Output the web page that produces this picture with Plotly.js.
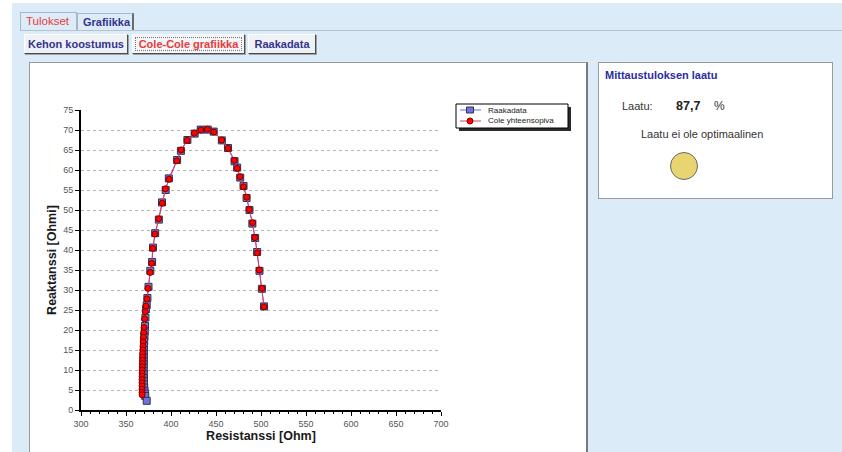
<!DOCTYPE html>
<html>
<head>
<meta charset="utf-8">
<script src="https://cdn.plot.ly/plotly-3.0.1.min.js"></script>
<style>
  html, body { margin:0; padding:0; }
  body { width:842px; height:452px; position:relative; overflow:hidden; background:#ffffff;
         font-family:'Liberation Sans', Arial, sans-serif; }
  .abs { position:absolute; box-sizing:border-box; }
  .bg { left:12px; top:3px; width:830px; height:449px; background:#dcebf8; }
  .tab { height:18px; font-size:11px; font-weight:bold; line-height:17px; padding-left:5px;
         border:1px solid #a9b6c4; border-bottom:none; background:#dcebf8; }
  .tabline { left:20px; top:30px; width:822px; height:1px; background:#b5c3d1; }
  .btn { top:34px; height:20px; font-size:11px; font-weight:bold; line-height:18px; text-align:center;
         background:#eef1f5; border:1px solid #ffffff; border-right:1px solid #4d4d4d; border-bottom:1px solid #4d4d4d;
         box-shadow: 1px 1px 0 #9aa3ad; }
  .panel { left:29px; top:62px; width:559px; height:400px; background:#ffffff;
           border-left:1px solid #9a9a9a; border-top:1px solid #9a9a9a; border-right:2px solid #7a7a7a; }
  .rpanel { left:598px; top:62px; width:235px; height:137px; background:#ffffff; border:1px solid #9a9a9a; }
  .txt { white-space:nowrap; font-size:11px; color:#333; }
  #chart { position:absolute; left:0; top:0; width:842px; height:452px; }
</style>
</head>
<body>
<div class="abs bg"></div>
<div class="abs tabline"></div>
<div class="abs tab" style="left:20px; top:12px; width:57px; color:#e83a3a; font-weight:normal; font-size:11.5px;">Tulokset</div>
<div class="abs tab" style="left:77px; top:13px; width:57px; height:17px; color:#34348c; border-right:2px solid #6b6b6b;">Grafiikka</div>

<div class="abs btn" style="left:24px; width:104px; color:#34348c;">Kehon koostumus</div>
<div class="abs btn" style="left:132px; width:113px; color:#e83a3a; background:#f3f5f8;">
  <div style="position:absolute; left:2px; top:2px; right:2px; bottom:2px; border:1px dotted #777;"></div>Cole-Cole grafiikka</div>
<div class="abs btn" style="left:248px; width:68px; color:#34348c;">Raakadata</div>

<div class="abs panel"></div>

<div class="abs rpanel"></div>
<div class="abs txt" style="left:605px; top:69px; font-weight:bold; color:#2c2ca0;">Mittaustuloksen laatu</div>
<div class="abs txt" style="left:622px; top:100px;">Laatu:</div>
<div class="abs txt" style="left:676px; top:99px; font-weight:bold; font-size:12.5px; color:#222;">87,7</div>
<div class="abs txt" style="left:714px; top:99px; font-size:12px;">%</div>
<div class="abs txt" style="left:641px; top:128px;">Laatu ei ole optimaalinen</div>
<div class="abs" style="left:670px; top:152px; width:28px; height:28px; border-radius:50%; background:#e8d470; border:1px solid #6a6a6a;"></div>

<div id="chart"></div>

<script>
// Raakadata (measured)
const resistanceRaw = [503.4, 501.0, 498.3, 495.7, 493.5, 490.4, 487.2, 484.0, 480.6, 476.9, 473.5, 470.6, 463.3, 456.5,
  447.4, 440.8, 433.0, 426.3, 418.2, 411.0, 406.8, 397.6, 394.1, 390.0, 386.5, 382.4,
  380.0, 379.0, 377.0, 375.0, 373.8, 373.0, 372.2, 371.6, 371.1, 370.8, 370.5, 370.2, 370.0, 369.9, 369.8, 369.7,
  369.7, 369.6, 369.6, 369.6, 369.7, 369.8, 369.9, 370.0, 370.2, 370.5, 370.9, 371.4, 373.0];
const reactanceRaw = [25.9, 30.3, 34.8, 39.5, 43.0, 46.6, 50.0, 53.0, 56.0, 58.1, 60.6, 62.2, 65.5, 67.4,
  69.6, 70.1, 70.1, 69.1, 67.5, 64.8, 62.5, 57.9, 55.0, 51.9, 47.6, 44.2,
  40.6, 37.0, 34.8, 30.8, 28.0, 26.2, 25.2, 23.1, 21.0, 19.6, 18.4, 17.2, 16.0, 15.0, 14.0, 13.1,
  12.2, 11.4, 10.6, 9.7, 8.9, 8.0, 7.2, 6.4, 5.6, 4.8, 4.1, 3.5, 2.3];

// Cole yhteensopiva (fitted)
const resistanceFit = [503.3, 501.1, 498.1, 495.9, 493.3, 490.6, 487.0, 484.2, 480.5, 476.7, 473.7, 470.4, 463.5, 456.3,
  447.6, 440.5, 433.2, 426.0, 418.0, 411.3, 406.5, 397.9, 393.8, 390.3, 386.2, 382.2,
  379.7, 378.6, 376.8, 374.4, 373.2, 372.2, 371.4, 370.7, 370.1, 369.7, 369.4, 369.1, 368.9, 368.7, 368.5, 368.4,
  368.3, 368.2, 368.1, 368.0, 367.9, 367.9, 367.8, 367.8, 367.8, 367.8, 367.8, 367.9];
const reactanceFit = [25.8, 30.4, 35.0, 39.3, 43.1, 46.8, 50.1, 53.2, 55.8, 58.3, 60.4, 62.4, 65.4, 67.5,
  69.5, 70.2, 70.0, 69.2, 67.4, 65.0, 62.3, 57.7, 55.3, 51.7, 47.8, 44.0,
  40.4, 36.7, 34.4, 30.4, 27.8, 26.0, 24.6, 22.8, 20.6, 19.3, 18.2, 17.0, 15.9, 15.0, 14.1, 13.2,
  12.4, 11.6, 10.8, 10.0, 9.2, 8.4, 7.6, 6.8, 6.0, 5.2, 4.4, 3.8];

const seriesNames = ['Raakadata', 'Cole yhteensopiva'];
const xTitle = 'Resistanssi [Ohm]';
const yTitle = 'Reaktanssi [Ohmi]';
const xTicks = [300, 350, 400, 450, 500, 550, 600, 650, 700];
const yTicks = [0, 5, 10, 15, 20, 25, 30, 35, 40, 45, 50, 55, 60, 65, 70, 75];
const yGrid = [5, 10, 15, 20, 25, 30, 35, 40, 45, 50, 55, 60, 65, 70];

// styles
const rawStyle = { line: '#6464f0', fill: '#7272dc', edge: '#34344a' };
const fitStyle = { line: '#f0385a', fill: '#ff0000', edge: '#7a0000' };

// plot area pixel box
const L = 81, R = 441, T = 110, B = 410;
const px = X => (X - L) / (R - L);
const py = Y => (B - Y) / (B - T);

const traces = [
  { x: resistanceRaw, y: reactanceRaw, name: seriesNames[0], type: 'scatter', mode: 'lines+markers',
    line: { color: rawStyle.line, width: 1 },
    marker: { symbol: 'square', size: 7, color: rawStyle.fill, line: { color: rawStyle.edge, width: 1 } } },
  { x: resistanceFit, y: reactanceFit, name: seriesNames[1], type: 'scatter', mode: 'lines+markers', yaxis: 'y2',
    line: { color: fitStyle.line, width: 1 },
    marker: { symbol: 'circle', size: 6, color: fitStyle.fill, line: { color: fitStyle.edge, width: 1 } } }
];

const tickFont = { family: 'Liberation Sans, Arial, sans-serif', size: 9, color: '#555' };
const titleFont = { family: 'Liberation Sans, Arial, sans-serif', size: 12.5, color: '#1a1a1a', weight: 'bold' };
const legFont = { family: 'Liberation Sans, Arial, sans-serif', size: 8, color: '#222' };

// hand-drawn legend box (pixel layout -> paper coords)
const lg = { x0: 456, x1: 568, y0: 104, y1: 128, rows: [110, 121], symX: 470, lineX0: 460, lineX1: 481, textX: 486 };
const shapes = [
  { type: 'rect', xref: 'paper', yref: 'paper', layer: 'above',
    x0: px(lg.x0 + 3), x1: px(lg.x1 + 3), y0: py(lg.y0 + 3), y1: py(lg.y1 + 3), fillcolor: '#2a2a2a', line: { width: 0 } },
  { type: 'rect', xref: 'paper', yref: 'paper', layer: 'above',
    x0: px(lg.x0), x1: px(lg.x1), y0: py(lg.y0), y1: py(lg.y1), fillcolor: '#ffffff', line: { color: '#000', width: 1 } },
  { type: 'line', xref: 'paper', yref: 'paper', layer: 'above',
    x0: px(lg.lineX0), x1: px(lg.lineX1), y0: py(lg.rows[0]), y1: py(lg.rows[0]), line: { color: rawStyle.line, width: 1 } },
  { type: 'rect', xref: 'paper', yref: 'paper', layer: 'above',
    x0: px(lg.symX - 3.5), x1: px(lg.symX + 3.5), y0: py(lg.rows[0] - 3), y1: py(lg.rows[0] + 3),
    fillcolor: rawStyle.fill, line: { color: rawStyle.edge, width: 1 } },
  { type: 'line', xref: 'paper', yref: 'paper', layer: 'above',
    x0: px(lg.lineX0), x1: px(lg.lineX1), y0: py(lg.rows[1]), y1: py(lg.rows[1]), line: { color: fitStyle.line, width: 1 } },
  { type: 'circle', xref: 'paper', yref: 'paper', layer: 'above',
    x0: px(lg.symX - 3), x1: px(lg.symX + 3), y0: py(lg.rows[1] - 3), y1: py(lg.rows[1] + 3),
    fillcolor: fitStyle.fill, line: { color: fitStyle.edge, width: 1 } }
];
const annotations = seriesNames.map((n, i) => ({
  text: n, xref: 'paper', yref: 'paper', x: px(lg.textX), y: py(lg.rows[i]),
  xanchor: 'left', yanchor: 'middle', showarrow: false, font: legFont
}));

const layout = {
  width: 842, height: 452,
  margin: { l: L, r: 842 - R, t: T, b: 452 - B, pad: 0, autoexpand: false },
  paper_bgcolor: 'rgba(0,0,0,0)', plot_bgcolor: 'rgba(0,0,0,0)',
  showlegend: false,
  xaxis: { range: [300, 700], tickvals: xTicks, ticktext: xTicks.map(String),
           ticks: 'outside', ticklen: 4, tickwidth: 1, tickcolor: '#000',
           minor: { dtick: 10, tick0: 300, ticks: 'outside', ticklen: 2, tickcolor: '#000', showgrid: false },
           showline: true, linecolor: '#000', linewidth: 2, showgrid: false, zeroline: false,
           tickfont: tickFont, automargin: false,
           title: { text: xTitle, font: titleFont, standoff: 3 } },
  yaxis: { range: [0, 75], tickvals: yTicks, ticktext: yTicks.map(String),
           ticks: 'outside', ticklen: 4, tickwidth: 1, tickcolor: '#000',
           showline: true, linecolor: '#000', linewidth: 2, showgrid: false, zeroline: false,
           tickfont: tickFont, automargin: false,
           title: { text: yTitle, font: titleFont, standoff: 4 } },
  yaxis2: { range: [0, 75], overlaying: 'y', anchor: 'x', side: 'left', tickvals: yGrid,
            showticklabels: false, ticks: '', showline: false, zeroline: false,
            showgrid: true, gridcolor: '#b4b4b4', gridwidth: 1, griddash: 'dot' },
  shapes: shapes,
  annotations: annotations
};

Plotly.newPlot('chart', traces, layout, { staticPlot: true, displayModeBar: false });
</script>
</body>
</html>
